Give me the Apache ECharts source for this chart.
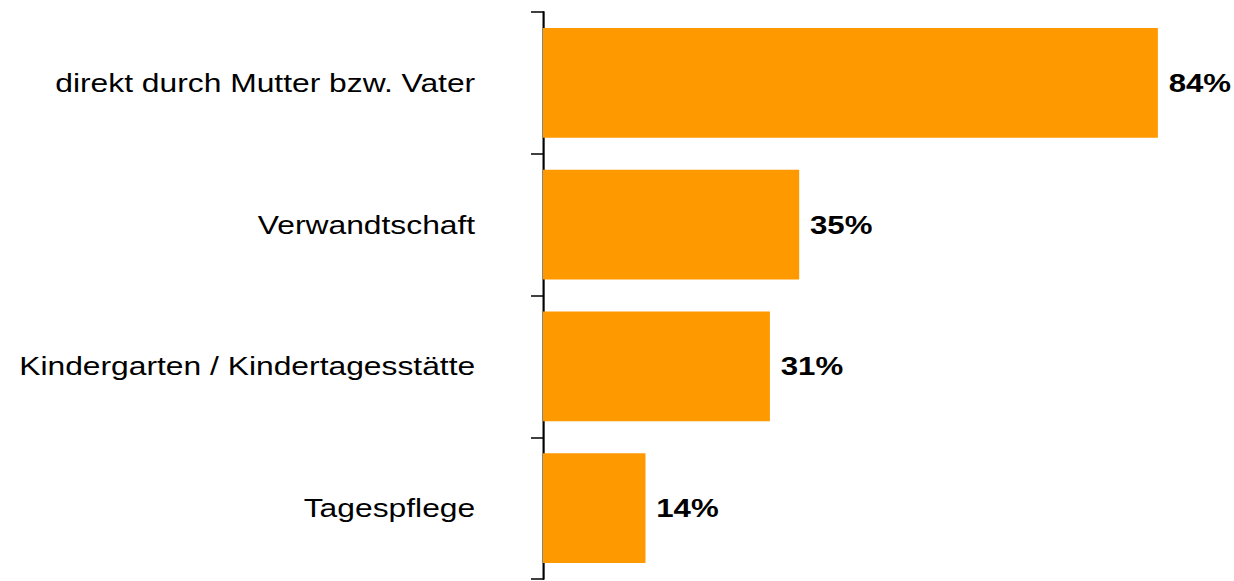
<!DOCTYPE html>
<html><head><meta charset="utf-8">
<script src="https://cdn.jsdelivr.net/npm/echarts@6/dist/echarts.min.js"></script>
<style>
html,body{margin:0;padding:0;background:#fff;overflow:hidden;width:1234px;height:581px}
/* the reference's text is horizontally stretched ~1.2x; reproduce by scaling the whole drawing */
#c{width:1028px;height:581px;transform:scaleX(1.2);transform-origin:0 0}
</style>
</head><body><div id="c"></div>
<script>
const categories = ["direkt durch Mutter bzw. Vater", "Verwandtschaft", "Kindergarten / Kindertagesstätte", "Tagespflege"];
const values = [84, 35, 31, 14];

const chart = echarts.init(document.getElementById('c'), null, { renderer: 'svg' });
chart.setOption({
  animation: false,
  grid: { left: 452.5, right: 26.5, top: 12, bottom: 2, containLabel: false },
  xAxis: { type: 'value', min: 0, max: 90, show: false },
  yAxis: {
    type: 'category', data: categories, inverse: true,
    axisLine: { show: true, lineStyle: { color: '#000', width: 1.8 } },
    axisTick: { show: true, length: 10, lineStyle: { color: '#000', width: 1.5 } },
    axisLabel: { fontFamily: '"Liberation Sans", Arial, sans-serif', fontSize: 26.5, color: '#000', margin: 56.5 }
  },
  series: [{
    type: 'bar', data: values, barWidth: '77.5%',
    itemStyle: { color: '#FF9900' },
    label: { show: true, position: 'right', distance: 9, formatter: '{c}%',
      fontFamily: '"Liberation Sans", Arial, sans-serif', fontSize: 26, fontWeight: 'bold', color: '#000' }
  }]
});
</script></body></html>
